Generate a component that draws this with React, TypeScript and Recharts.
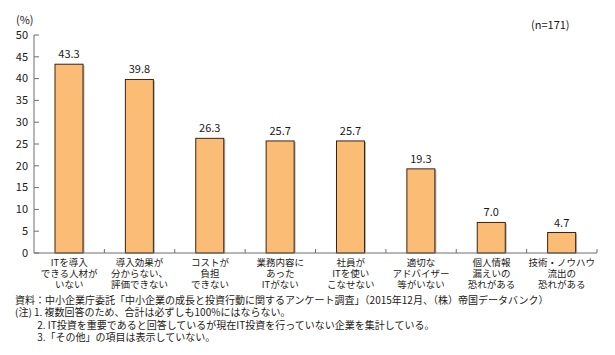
import { BarChart, Bar, XAxis, YAxis, LabelList } from "recharts";

const categories = [
  "ITを導入\nできる人材が\nいない",
  "導入効果が\n分からない、\n評価できない",
  "コストが\n負担\nできない",
  "業務内容に\nあった\nITがない",
  "社員が\nITを使い\nこなせない",
  "適切な\nアドバイザー\n等がいない",
  "個人情報\n漏えいの\n恐れがある",
  "技術・ノウハウ\n流出の\n恐れがある",
];
const values = [43.3, 39.8, 26.3, 25.7, 25.7, 19.3, 7.0, 4.7];
const yTicks = [0, 5, 10, 15, 20, 25, 30, 35, 40, 45, 50];
const notes = [
  "資料：中小企業庁委託「中小企業の成長と投資行動に関するアンケート調査」（2015年12月、（株）帝国データバンク）",
  "(注) 1. 複数回答のため、合計は必ずしも100%にはならない。",
  "　　 2. IT投資を重要であると回答しているが現在IT投資を行っていない企業を集計している。",
  "　　 3.「その他」の項目は表示していない。",
];

const data = categories.map((name, i) => ({ name, value: values[i] }));

const FONT = '"Noto Sans CJK JP", "Noto Sans", sans-serif';
const TEXT = "#231815";
const AXIS = "#6e6e6e";

const ShadowBar = (props: any) => {
  const { x, y, width, height } = props;
  if (height <= 0) return null;
  return (
    <g>
      <rect x={x + 1.5} y={y + 1} width={width} height={height - 1} fill="#b5b5b5" />
      <rect x={x} y={y} width={width} height={height} fill="#fbbc76" stroke="#3b2414" strokeWidth={1} />
    </g>
  );
};

const YTick = (props: any) => {
  const { x, y, payload } = props;
  return (
    <g>
      <line x1={x + 6} x2={x + 11} y1={y} y2={y} stroke={AXIS} />
      <text x={x} y={y} dy="0.35em" textAnchor="end" fontSize={11} fill={TEXT} fontFamily={FONT}>
        {payload.value}
      </text>
    </g>
  );
};

const XTick = (props: any) => {
  const { x, y, payload } = props;
  const lines = String(payload.value).split("\n");
  const edge = x + (payload.offset || 0);
  return (
    <g>
      <line x1={edge} x2={edge} y1={y - 4} y2={y - 8} stroke={AXIS} />
      <text x={x} y={y} textAnchor="middle" fontSize={9.5} fill={TEXT} fontFamily={FONT}>
        {lines.map((l, i) => (
          <tspan key={i} x={x} dy={i === 0 ? 8.8 : 11.2}>
            {l}
          </tspan>
        ))}
      </text>
    </g>
  );
};

export default function App() {
  return (
    <div style={{ position: "absolute", left: 0, top: 0, width: 615, height: 355, background: "#fff", fontFamily: FONT, color: TEXT }}>
      <BarChart width={615} height={355} data={data} margin={{ top: 35, right: 18, bottom: 62, left: 0 }}>
        <YAxis
          width={34}
          domain={[0, 50]}
          ticks={yTicks}
          interval={0}
          tickLine={false}
          tickSize={0}
          tickMargin={6}
          axisLine={{ stroke: AXIS }}
          tick={<YTick />}
        />
        <XAxis
          dataKey="name"
          height={40}
          interval={0}
          tickLine={false}
          tickSize={0}
          tickMargin={4}
          axisLine={{ stroke: AXIS }}
          tick={<XTick />}
        />
        <Bar dataKey="value" barSize={28} shape={<ShadowBar />} isAnimationActive={false}>
          <LabelList
            dataKey="value"
            position="top"
            offset={6}
            formatter={(v: any) => Number(v).toFixed(1)}
            style={{ fontSize: 11, fill: TEXT, fontFamily: FONT }}
          />
        </Bar>
      </BarChart>
      <div style={{ position: "absolute", left: 16, top: 11, fontSize: 11 }}>(%)</div>
      <div style={{ position: "absolute", left: 531, top: 16, fontSize: 11 }}>(n=171)</div>
      <div style={{ position: "absolute", left: 15, top: 294, fontSize: 10, lineHeight: "12.3px", whiteSpace: "pre" }}>
        {notes.map((n, i) => (
          <div key={i}>{n}</div>
        ))}
      </div>
    </div>
  );
}
